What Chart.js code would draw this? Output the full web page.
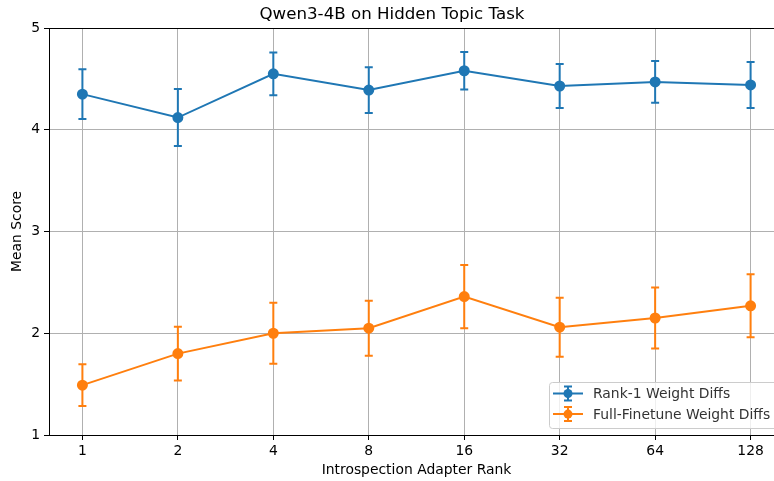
<!DOCTYPE html>
<html>
<head>
<meta charset="utf-8">
<script src="https://cdn.jsdelivr.net/npm/chart.js@4"></script>
<style>
  html, body { margin: 0; padding: 0; background: #fff; }
  /* the reference figure is cut at the right edge, so the canvas is wider than the view */
  #wrap { width: 774px; height: 481px; overflow: hidden; }
</style>
</head>
<body>
<div id="wrap"><canvas id="chart" width="833" height="481"></canvas></div>
<script>
// ===== data =====
const ranks = ["1", "2", "4", "8", "16", "32", "64", "128"];
const rank1Mean = [4.35, 4.12, 4.55, 4.39, 4.58, 4.43, 4.47, 4.44];
const rank1Err  = [0.245, 0.28, 0.21, 0.225, 0.185, 0.215, 0.205, 0.225];
const fullMean  = [1.49, 1.80, 2.00, 2.05, 2.36, 2.06, 2.15, 2.27];
const fullErr   = [0.205, 0.265, 0.30, 0.27, 0.31, 0.29, 0.30, 0.31];
const seriesNames = ["Rank-1 Weight Diffs", "Full-Finetune Weight Diffs"];

const BLUE = "#1f77b4";
const ORANGE = "#ff7f0e";
const FONT = "'DejaVu Sans', sans-serif";
const FS = 13.9;

Chart.defaults.font.family = FONT;
Chart.defaults.color = "#000";

function toPoints(arr) {
  return arr.map((v, i) => ({ x: i, y: v }));
}

// error bars drawn through the scales
const errorBars = {
  id: "errorBars",
  beforeDatasetsDraw(chart) {
    const ctx = chart.ctx;
    const xs = chart.scales.x, ys = chart.scales.y;
    const sets = [[rank1Mean, rank1Err, BLUE], [fullMean, fullErr, ORANGE]];
    ctx.save();
    sets.forEach(([means, errs, color]) => {
      ctx.strokeStyle = color;
      ctx.lineWidth = 2;
      means.forEach((m, i) => {
        const px = xs.getPixelForValue(i);
        const top = ys.getPixelForValue(m + errs[i]);
        const bot = ys.getPixelForValue(m - errs[i]);
        ctx.beginPath();
        ctx.moveTo(px, top); ctx.lineTo(px, bot);
        ctx.moveTo(px - 4, top); ctx.lineTo(px + 4, top);
        ctx.moveTo(px - 4, bot); ctx.lineTo(px + 4, bot);
        ctx.stroke();
      });
    });
    ctx.restore();
  }
};

// matplotlib-like legend, lower right
const mplLegend = {
  id: "mplLegend",
  afterDraw(chart) {
    const ctx = chart.ctx;
    const area = chart.chartArea;
    ctx.save();
    ctx.font = FS + "px " + FONT;
    const textW = Math.max(...seriesNames.map(n => ctx.measureText(n).width));
    const h = 46;
    const w = 44 + textW + 7;
    const right = area.right - 7;
    const left = Math.round(right - w);
    const top = Math.round(area.bottom - 7 - h);
    ctx.fillStyle = "rgba(255,255,255,0.8)";
    ctx.strokeStyle = "#cccccc";
    ctx.lineWidth = 1;
    ctx.beginPath();
    ctx.roundRect(left + 0.5, top + 0.5, w, h, 3);
    ctx.fill();
    ctx.stroke();
    [BLUE, ORANGE].forEach((color, k) => {
      const cy = top + 11.5 + k * 20.6;
      ctx.strokeStyle = color;
      ctx.fillStyle = color;
      ctx.lineWidth = 2;
      ctx.beginPath();
      ctx.moveTo(left + 4, cy); ctx.lineTo(left + 34, cy);
      ctx.moveTo(left + 19, cy - 7); ctx.lineTo(left + 19, cy + 7);
      ctx.moveTo(left + 15, cy - 7); ctx.lineTo(left + 23, cy - 7);
      ctx.moveTo(left + 15, cy + 7); ctx.lineTo(left + 23, cy + 7);
      ctx.stroke();
      ctx.beginPath();
      ctx.arc(left + 19, cy, 4.5, 0, Math.PI * 2);
      ctx.fill();
      ctx.fillStyle = "#333";
      ctx.textBaseline = "middle";
      ctx.textAlign = "left";
      ctx.fillText(seriesNames[k], left + 44, cy + 1);
    });
    ctx.restore();
  }
};

new Chart(document.getElementById("chart"), {
  type: "line",
  data: {
    datasets: [
      {
        label: seriesNames[0],
        data: toPoints(rank1Mean),
        borderColor: BLUE,
        backgroundColor: BLUE,
        borderWidth: 2,
        pointRadius: 4.5,
        pointHoverRadius: 4.5,
        tension: 0
      },
      {
        label: seriesNames[1],
        data: toPoints(fullMean),
        borderColor: ORANGE,
        backgroundColor: ORANGE,
        borderWidth: 2,
        pointRadius: 4.5,
        pointHoverRadius: 4.5,
        tension: 0
      }
    ]
  },
  options: {
    responsive: false,
    animation: false,
    events: [],
    layout: { padding: { left: 0, right: 49, top: 0, bottom: 0 } },
    plugins: {
      legend: { display: false },
      tooltip: { enabled: false },
      title: {
        display: true,
        text: "Qwen3-4B on Hidden Topic Task",
        color: "#000",
        font: { size: 16.67, weight: "normal", family: FONT },
        padding: { top: 5, bottom: 3 }
      }
    },
    scales: {
      x: {
        type: "linear",
        min: -0.35,
        max: 7.35,
        afterBuildTicks: (axis) => { axis.ticks = ranks.map((_, i) => ({ value: i })); },
        afterFit: (scale) => { scale.height = 46; },
        ticks: {
          autoSkip: false,
          maxRotation: 0,
          padding: 3,
          color: "#000",
          font: { size: FS },
          callback: (v) => ranks[v]
        },
        grid: {
          color: "#b0b0b0",
          lineWidth: 1,
          tickColor: "#000",
          tickLength: 5
        },
        border: { color: "#000", width: 1 },
        title: {
          display: true,
          text: "Introspection Adapter Rank",
          color: "#000",
          font: { size: FS },
          padding: { top: 0, bottom: 2 }
        }
      },
      y: {
        min: 1,
        max: 5,
        afterFit: (scale) => { scale.width = 49; },
        ticks: {
          stepSize: 1,
          padding: 4,
          color: "#000",
          font: { size: FS }
        },
        grid: {
          color: (c) => (c.tick && c.tick.value === 5 ? "#000" : "#b0b0b0"),
          lineWidth: 1,
          tickColor: "#000",
          tickLength: 5
        },
        border: { color: "#000", width: 1 },
        title: {
          display: true,
          text: "Mean Score",
          color: "#000",
          font: { size: FS },
          padding: { top: 9, bottom: 0 }
        }
      }
    }
  },
  plugins: [errorBars, mplLegend]
});
</script>
</body>
</html>
